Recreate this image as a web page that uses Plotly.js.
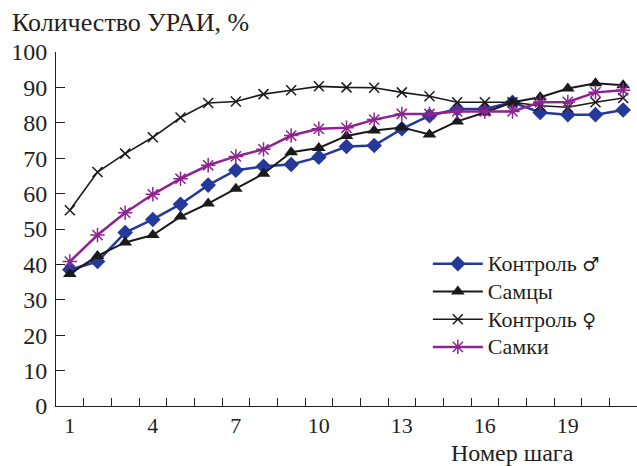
<!DOCTYPE html>
<html>
<head>
<meta charset="utf-8">
<script src="https://cdn.plot.ly/plotly-3.0.1.min.js"></script>
<style>html,body{margin:0;padding:0;background:#fff;}#chart{width:637px;height:466px;}</style>
</head>
<body>
<div id="chart"></div>
<script>
const steps = [1,2,3,4,5,6,7,8,9,10,11,12,13,14,15,16,17,18,19,20,21];
const controlMale = [38.5,40.8,49.0,52.7,57.0,62.4,66.6,67.7,68.2,70.3,73.3,73.6,78.3,82.0,83.9,83.9,85.8,82.9,82.3,82.3,83.6];
const males = [37.3,42.4,46.2,48.3,53.5,57.2,61.4,65.6,71.7,72.9,76.3,77.8,78.7,76.7,80.4,82.9,85.8,87.2,89.7,91.2,90.6];
const controlFemale = [55.3,66.1,71.3,75.9,81.5,85.6,86.0,88.1,89.2,90.3,90.0,89.9,88.6,87.5,85.8,85.8,85.8,84.8,84.4,85.8,87.0];
const females = [40.8,48.3,54.6,59.8,64.2,68.0,70.5,72.5,76.4,78.3,78.6,80.9,82.5,82.5,83.2,83.2,83.2,85.8,85.9,88.6,89.2];
const seriesNames = ['Контроль ♂','Самцы','Контроль ♀','Самки'];
const xTickVals = [1,4,7,10,13,16,19];
const xTickText = ['1','4','7','10','13','16','19'];
const xTickMarks = [1.5,2.5,3.5,4.5,5.5,6.5,7.5,8.5,9.5,10.5,11.5,12.5,13.5,14.5,15.5,16.5,17.5,18.5,19.5,20.5];
const yTickVals = [0,10,20,30,40,50,60,70,80,90,100];

const FONT = "'Liberation Serif', 'Times New Roman', serif";
const TXT = '#231f20';
const legName = n => '<span style="font-size:22px">' +
  n.replace(/([♂♀])/g, '<span style="font-family:\'DejaVu Sans\';font-size:19px">$1</span>') + '</span>';

const traces = [
  {x: steps, y: controlMale, name: legName(seriesNames[0]), mode: 'lines+markers',
   line: {color: '#24399a', width: 2.5},
   marker: {symbol: 'diamond', size: 12, color: '#24399a'}},
  {x: steps, y: males, name: legName(seriesNames[1]), mode: 'lines+markers',
   line: {color: '#1a1a1a', width: 2},
   marker: {symbol: 'triangle-up', size: 12, color: '#1a1a1a'}},
  {x: steps, y: controlFemale, name: legName(seriesNames[2]), mode: 'lines+markers',
   line: {color: '#1a1a1a', width: 1.6},
   marker: {symbol: 'x-thin-open', size: 10, color: '#1a1a1a', line: {width: 1.5, color: '#1a1a1a'}}},
  {x: steps, y: females, name: legName(seriesNames[3]), mode: 'lines+markers',
   line: {color: '#8e2490', width: 2.5},
   marker: {symbol: 'asterisk-open', size: 12, color: '#8e2490', line: {width: 1.5, color: '#8e2490'}}},
  {x: [], y: [], xaxis: 'x2', yaxis: 'y', type: 'scatter', mode: 'markers', showlegend: false, hoverinfo: 'skip'}
];

const layout = {
  width: 637, height: 466,
  margin: {l: 56, r: 0, t: 52, b: 60, pad: 0},
  paper_bgcolor: '#fff', plot_bgcolor: '#fff',
  font: {family: FONT, color: TXT, size: 22},
  showlegend: true,
  legend: {x: 0.64, y: 0.455, xanchor: 'left', yanchor: 'top', bgcolor: 'rgba(0,0,0,0)',
           font: {family: FONT, size: 19, color: TXT}, itemwidth: 50, tracegroupgap: 0},
  title: {text: 'Количество УРАИ, %', x: 12/637, xref: 'container', xanchor: 'left',
          y: 1 - 22/466, yref: 'container', yanchor: 'middle',
          font: {family: FONT, size: 26, color: TXT}},
  xaxis: {range: [0.5, 21.5], tickmode: 'array', tickvals: xTickVals, ticktext: xTickText,
          ticks: '', showline: true, linecolor: TXT, linewidth: 1, showgrid: false, zeroline: false,
          tickfont: {family: FONT, size: 22, color: TXT}, fixedrange: true},
  xaxis2: {range: [0.5, 21.5], overlaying: 'x', anchor: 'y', side: 'bottom',
           tickmode: 'array', tickvals: xTickMarks, showticklabels: false,
           ticks: 'inside', ticklen: 8, tickwidth: 1, tickcolor: TXT,
           showline: false, showgrid: false, zeroline: false, fixedrange: true},
  yaxis: {range: [0, 100], tickmode: 'array', tickvals: yTickVals,
          ticks: 'inside', ticklen: 9, tickwidth: 1, tickcolor: TXT,
          showline: true, linecolor: TXT, linewidth: 1, showgrid: false, zeroline: false,
          tickfont: {family: FONT, size: 24, color: TXT}, ticklabelstandoff: 3, fixedrange: true},
  annotations: [
    {text: 'Номер шага', xref: 'paper', yref: 'paper', x: (512 - 56)/581, y: (406 - 453)/354,
     xanchor: 'center', yanchor: 'middle', showarrow: false,
     font: {family: FONT, size: 24, color: TXT}}
  ]
};
Plotly.newPlot('chart', traces, layout, {displayModeBar: false, staticPlot: true});
</script>
</body>
</html>
